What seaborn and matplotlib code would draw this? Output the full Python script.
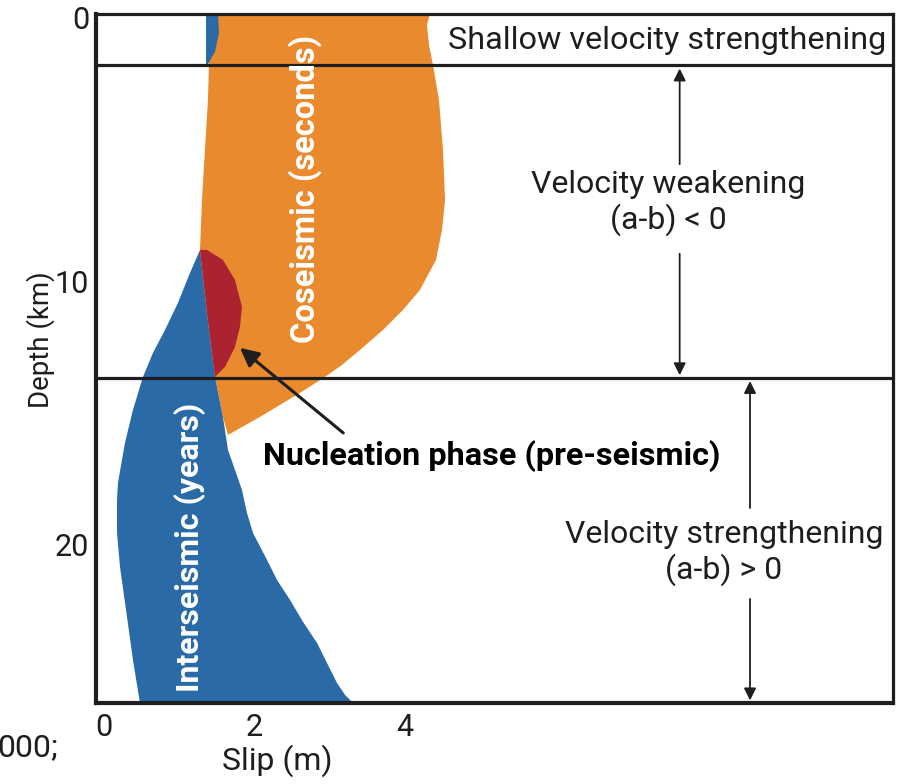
import numpy as np
import pandas as pd
import matplotlib
matplotlib.use("Agg")
import matplotlib.pyplot as plt
import seaborn as sns

# ---------------- data (slip in m, depth in km) ----------------
coseismic_slip = [1.369, 1.395, 1.382, 1.342, 1.302, 1.276, 1.369, 1.475, 1.581, 1.648,
                  2.073, 2.605, 2.937, 3.163, 3.402, 3.708, 3.973, 4.199, 4.412, 4.492,
                  4.532, 4.505, 4.452, 4.372, 4.319, 4.292, 4.332]
coseismic_depth = [-0.152, 1.784, 3.112, 5.009, 6.907, 8.805, 11.195, 13.624, 15.142, 15.825,
                   15.142, 14.231, 13.624, 13.169, 12.600, 11.841, 11.082, 10.323, 9.184, 8.046,
                   6.907, 5.009, 3.112, 1.784, 1.025, 0.266, -0.152]

shallow_inter_slip = [1.356, 1.515, 1.528, 1.475, 1.382, 1.356]
shallow_inter_depth = [-0.152, -0.152, 0.57, 1.29, 1.75, 1.75]

nucleation_slip = [1.276, 1.369, 1.581, 1.741, 1.834, 1.807, 1.741, 1.608, 1.475, 1.369]
nucleation_depth = [8.805, 8.805, 9.184, 9.943, 10.968, 11.727, 12.486, 13.245, 13.624, 11.195]

interseismic_slip = [1.276, 1.369, 1.475, 1.581, 1.648, 1.834, 1.900, 1.980, 2.166, 2.299,
                     2.472, 2.645, 2.831, 2.963, 3.096, 3.203, 3.309,
                     0.478, 0.385, 0.306, 0.213, 0.173, 0.173, 0.186, 0.239, 0.279,
                     0.385, 0.518, 0.651, 0.811, 0.983, 1.143]
interseismic_depth = [8.805, 11.195, 13.624, 15.142, 16.395, 17.913, 18.786, 19.545, 20.569, 21.328,
                      22.087, 22.922, 23.719, 24.478, 25.237, 25.693, 25.996,
                      25.996, 24.364, 22.732, 20.835, 19.545, 18.292, 17.647, 16.774, 16.129,
                      14.877, 13.624, 12.713, 11.841, 10.816, 9.677]

zone_boundaries = [1.8, 13.65]          # depth of frictional transitions (km)
x_ticks = [0, 2, 4]
y_ticks = [0, 10, 20]

# ---------------- style ----------------
sns.set_theme(style="white")
plt.rcParams["font.family"] = ["Roboto", "DejaVu Sans"]

ORANGE = "#EA8A2E"
BLUE = "#2A6AA6"
RED = "#AB2230"
INK = "#1E1E1E"

W, H = 902, 784
fig = plt.figure(figsize=(W / 100, H / 100), dpi=100)
ax = fig.add_axes([96 / W, 1 - 703 / H, (893 - 96) / W, (703 - 14) / H])

ax.fill(coseismic_slip, coseismic_depth, color=ORANGE, lw=0, zorder=1)
ax.fill(shallow_inter_slip, shallow_inter_depth, color=BLUE, lw=0, zorder=2)
ax.fill(interseismic_slip, interseismic_depth, color=BLUE, lw=0, zorder=2)
ax.fill(nucleation_slip, nucleation_depth, color=RED, lw=0, zorder=3)

xmin, xmax = -0.106, 10.485
for d in zone_boundaries:
    df = pd.DataFrame({"slip": [xmin, xmax], "depth": [d, d]})
    sns.lineplot(data=df, x="slip", y="depth", ax=ax, color=INK, lw=2.3, zorder=5)

ax.set_xlim(xmin, xmax)
ax.set_ylim(26.0, -0.15)
ax.set_xticks(x_ticks)
ax.set_xticklabels([str(v) for v in x_ticks])
ax.set_yticks(y_ticks)
ax.set_yticklabels([str(v) for v in y_ticks])
ax.tick_params(axis="both", length=0, labelsize=22, colors=INK)
ax.tick_params(axis="x", pad=7)
ax.tick_params(axis="y", pad=5)
ax.set_xlabel("")
ax.set_ylabel("")
for side, lw in [("left", 3.0), ("bottom", 3.0), ("top", 2.3), ("right", 2.3)]:
    ax.spines[side].set_visible(True)
    ax.spines[side].set_color(INK)
    ax.spines[side].set_linewidth(lw)

# ---------------- annotations ----------------
arrow_kw = dict(arrowstyle="-|>", color=INK, lw=1.3, mutation_scale=18,
                shrinkA=0, shrinkB=0)

ax.text(7.48, 0.84, "Shallow velocity strengthening", ha="center", va="center",
        fontsize=23.3, color=INK, zorder=6)

ax.annotate("", xy=(7.65, 1.92), xytext=(7.65, 5.55), arrowprops=arrow_kw, zorder=6)
ax.annotate("", xy=(7.65, 13.56), xytext=(7.65, 8.95), arrowprops=arrow_kw, zorder=6)
ax.text(7.495, 7.02, "Velocity weakening\n(a-b) < 0", ha="center", va="center",
        fontsize=23, color=INK, linespacing=1.15, zorder=6)

ax.annotate("", xy=(8.585, 13.78), xytext=(8.585, 18.6), arrowprops=arrow_kw, zorder=6)
ax.annotate("", xy=(8.585, 25.9), xytext=(8.585, 22.05), arrowprops=arrow_kw, zorder=6)
ax.text(8.24, 20.3, "Velocity strengthening\n(a-b) > 0", ha="center", va="center",
        fontsize=23, color=INK, linespacing=1.15, zorder=6)

ax.annotate("", xy=(1.807, 12.52), xytext=(3.18, 15.75),
            arrowprops=dict(arrowstyle="-|>", color=INK, lw=2.2, mutation_scale=28,
                            shrinkA=0, shrinkB=0), zorder=6)
ax.text(5.156, 16.62, "Nucleation phase (pre-seismic)", ha="center", va="center",
        fontsize=23.3, fontweight="bold", color="black", zorder=6)

ax.text(2.671, 6.49, "Coseismic (seconds)", rotation=90, ha="center", va="center",
        fontsize=23.5, fontweight="bold", color="white", zorder=6)
ax.text(1.143, 20.1, "Interseismic (years)", rotation=90, ha="center", va="center",
        fontsize=23, fontweight="bold", color="white", zorder=6)

fig.text(41 / W, 1 - 340 / H, "Depth (km)", rotation=90, ha="center", va="center",
         fontsize=20, color=INK)
fig.text(277 / W, 1 - 761 / H, "Slip (m)", ha="center", va="center",
         fontsize=23, color=INK)
fig.text(-3 / W, 1 - 748 / H, "000;", ha="left", va="center", fontsize=23, color=INK)

fig.savefig("out.png", dpi=100)
